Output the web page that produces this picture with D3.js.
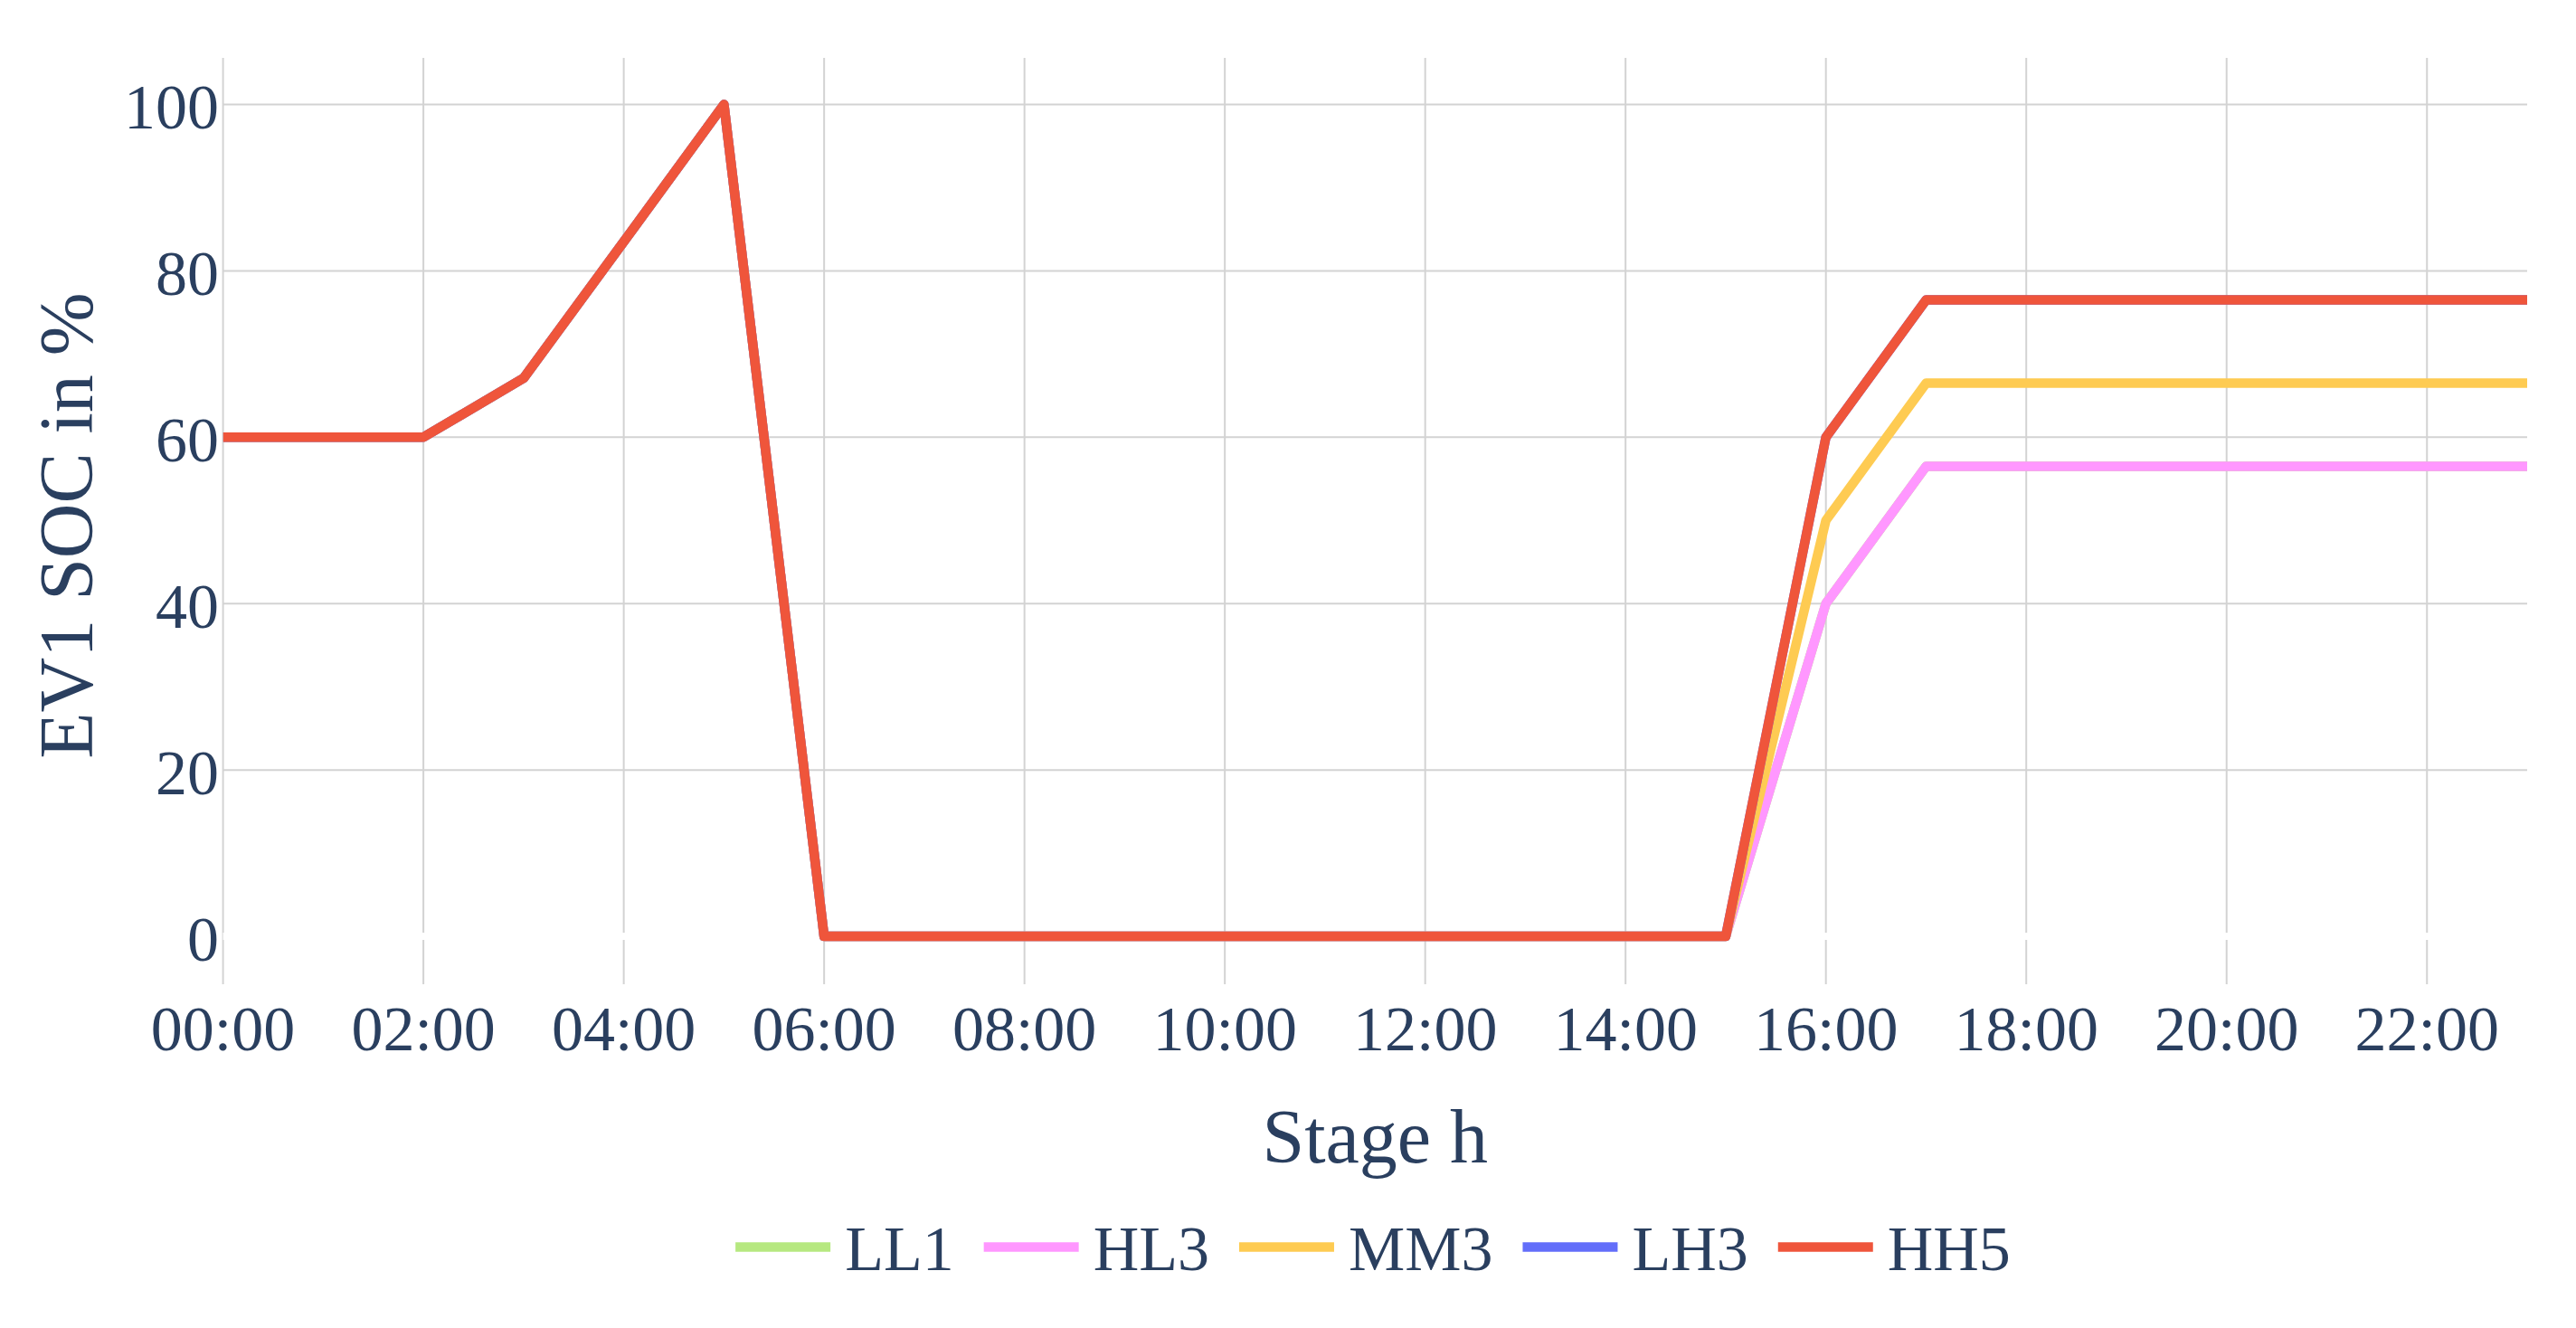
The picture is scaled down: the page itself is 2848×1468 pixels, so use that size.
<!DOCTYPE html>
<html>
<head>
<meta charset="utf-8">
<script src="https://cdn.jsdelivr.net/npm/d3@7"></script>
<style>
html,body{margin:0;padding:0;background:#fff;}
svg{display:block;}
text{font-family:"Liberation Serif","Times New Roman",serif;fill:#2a3f5f;}
</style>
</head>
<body>
<svg id="chart" width="2848" height="1468"></svg>
<script>
// ---- data ----
const hours = [0,1,2,3,4,5,6,7,8,9,10,11,12,13,14,15,16,17,18,19,20,21,22,23];
const seriesNames = ["LL1","HL3","MM3","LH3","HH5"];
const seriesColors = ["#b6e880","#ff97ff","#fecb52","#636efa","#ef553b"];
const LL1 = [60,60,60,67.1,83.5,100,0,0,0,0,0,0,0,0,0,0,40,56.5,56.5,56.5,56.5,56.5,56.5,56.5];
const HL3 = [60,60,60,67.1,83.5,100,0,0,0,0,0,0,0,0,0,0,40,56.5,56.5,56.5,56.5,56.5,56.5,56.5];
const MM3 = [60,60,60,67.1,83.5,100,0,0,0,0,0,0,0,0,0,0,50,66.5,66.5,66.5,66.5,66.5,66.5,66.5];
const LH3 = [60,60,60,67.1,83.5,100,0,0,0,0,0,0,0,0,0,0,60,76.5,76.5,76.5,76.5,76.5,76.5,76.5];
const HH5 = [60,60,60,67.1,83.5,100,0,0,0,0,0,0,0,0,0,0,60,76.5,76.5,76.5,76.5,76.5,76.5,76.5];
const seriesValues = [LL1, HL3, MM3, LH3, HH5];
const xTicks = [0,2,4,6,8,10,12,14,16,18,20,22];
const yTicks = [0,20,40,60,80,100];
const xTitle = "Stage h";
const yTitle = "EV1 SOC in %";

// ---- layout ----
const svg = d3.select("#chart");
const W = 2848, H = 1468;
const plot = {left:246.6, right:2794, top:64, bottom:1088};
svg.append("rect").attr("width",W).attr("height",H).attr("fill","#fff");

const x = d3.scaleLinear().domain([0,23]).range([plot.left, plot.right]);
const y = d3.scaleLinear().domain([-5.76,105.6]).range([plot.bottom, plot.top]);

const grid = svg.append("g");
grid.selectAll("line.v").data(xTicks).join("line")
  .attr("x1",d=>x(d)).attr("x2",d=>x(d))
  .attr("y1",plot.top).attr("y2",plot.bottom)
  .attr("stroke","#d3d3d3").attr("stroke-width",2);
grid.selectAll("line.h").data(yTicks.filter(d=>d!==0)).join("line")
  .attr("x1",plot.left).attr("x2",plot.right)
  .attr("y1",d=>y(d)).attr("y2",d=>y(d))
  .attr("stroke","#d3d3d3").attr("stroke-width",2);
grid.append("line")
  .attr("x1",plot.left).attr("x2",plot.right)
  .attr("y1",y(0)).attr("y2",y(0))
  .attr("stroke","#fff").attr("stroke-width",8);

const fmt = h => String(h).padStart(2,"0") + ":00";
svg.append("g").selectAll("text").data(xTicks).join("text")
  .attr("x",d=>x(d)).attr("y",1161)
  .attr("text-anchor","middle").attr("font-size",70)
  .text(d=>fmt(d));
svg.append("g").selectAll("text").data(yTicks).join("text")
  .attr("x",242).attr("y",d=>y(d)+26.5)
  .attr("text-anchor","end").attr("font-size",70)
  .text(d=>d);

svg.append("text").attr("x",(plot.left+plot.right)/2).attr("y",1285)
  .attr("text-anchor","middle").attr("font-size",84).text(xTitle);
svg.append("text").attr("transform",`translate(102,${581}) rotate(-90)`)
  .attr("text-anchor","middle").attr("font-size",84).text(yTitle);

const clipId = "plotclip";
svg.append("clipPath").attr("id",clipId).append("rect")
  .attr("x",plot.left).attr("y",plot.top)
  .attr("width",plot.right-plot.left).attr("height",plot.bottom-plot.top);
const line = d3.line().x((d,i)=>x(hours[i])).y(d=>y(d));
const lines = svg.append("g").attr("clip-path",`url(#${clipId})`);
seriesValues.forEach((vals,k)=>{
  lines.append("path").datum(vals)
    .attr("d",line).attr("fill","none")
    .attr("stroke",seriesColors[k]).attr("stroke-width",10.5)
    .attr("stroke-linejoin","round");
});

const legend = svg.append("g");
const swW = 105, gap = 16, itemGap = 33, legY = 1378.5;
let items = [];
let cx = 0;
seriesNames.forEach((name,k)=>{
  const g = legend.append("g");
  g.append("line").attr("x1",0).attr("x2",swW).attr("y1",legY).attr("y2",legY)
    .attr("stroke",seriesColors[k]).attr("stroke-width",10.5);
  const t = g.append("text").attr("x",swW+gap).attr("y",1404)
    .attr("font-size",70).text(name);
  const tw = t.node().getComputedTextLength();
  items.push({g, x:cx});
  cx += swW + gap + tw + itemGap;
});
const total = cx - itemGap;
const startX = 1518 - total/2;
items.forEach(it=>it.g.attr("transform",`translate(${startX+it.x},0)`));
</script>
</body>
</html>
